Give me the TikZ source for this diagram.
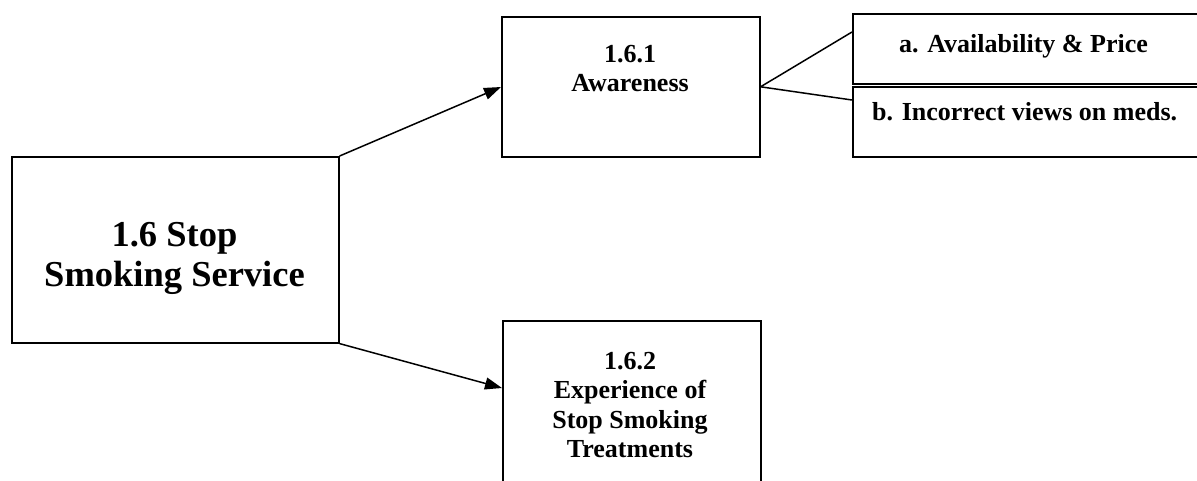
\documentclass[tikz,border=0pt]{standalone}
\usepackage{fontspec}
\setmainfont{Liberation Serif}
\usetikzlibrary{arrows.meta}
\begin{document}
\begin{tikzpicture}[x=1pt,y=-1pt,
  boxline/.style={draw=black,line width=1.6pt},
  box/.style={boxline,rectangle,inner sep=0pt,anchor=north west},
  conn/.style={draw=black,line width=1.5pt},
  arr/.style={conn,-{Triangle[length=17pt,width=12pt]}},
  big/.style={font=\fontsize{36.5}{40}\selectfont\bfseries,align=center,inner sep=0pt},
  mid/.style={font=\fontsize{26}{29.5}\selectfont\bfseries,align=center,inner sep=0pt},
  small/.style={font=\fontsize{26}{30}\selectfont\bfseries,inner sep=0pt}]
\clip (0,0) rectangle (1197,480);
\fill[white] (0,0) rectangle (1197,480);
% boxes
\node[box,minimum width=327pt,minimum height=186pt] (main) at (11,156) {};
\node[box,minimum width=258pt,minimum height=140pt] (aw) at (501,16) {};
\node[box,minimum width=258pt,minimum height=180pt] (ex) at (502,320) {};
\node[box,minimum width=360pt,minimum height=70pt] (pa) at (852,13) {};
\node[box,minimum width=360pt,minimum height=70pt] (pb) at (852,86) {};
% texts
\node[big,anchor=north] (maint) at (174.5,222) {1.6 Stop\\Smoking Service};
\node[mid,anchor=north] (awt) at (630,45) {1.6.1\\Awareness};
\node[mid,anchor=north] (ext) at (630,352) {1.6.2\\Experience of\\Stop Smoking\\Treatments};
\node[small,anchor=base west] (pat) at (899,52) {a. Availability \& Price};
\node[small,anchor=base west] (pbt) at (872,120) {b. Incorrect views on meds.};
% connectors
\coordinate (awin) at (501,87);
\coordinate (exin) at (502,388);
\coordinate (paend) at (852,32);
\coordinate (pbend) at (852,100);
\draw[arr] (main.north east) -- (awin);
\draw[arr] (main.south east) -- (exin);
\draw[conn] (aw.east) -- (paend);
\draw[conn] (aw.east) -- (pbend);
\end{tikzpicture}
\end{document}
